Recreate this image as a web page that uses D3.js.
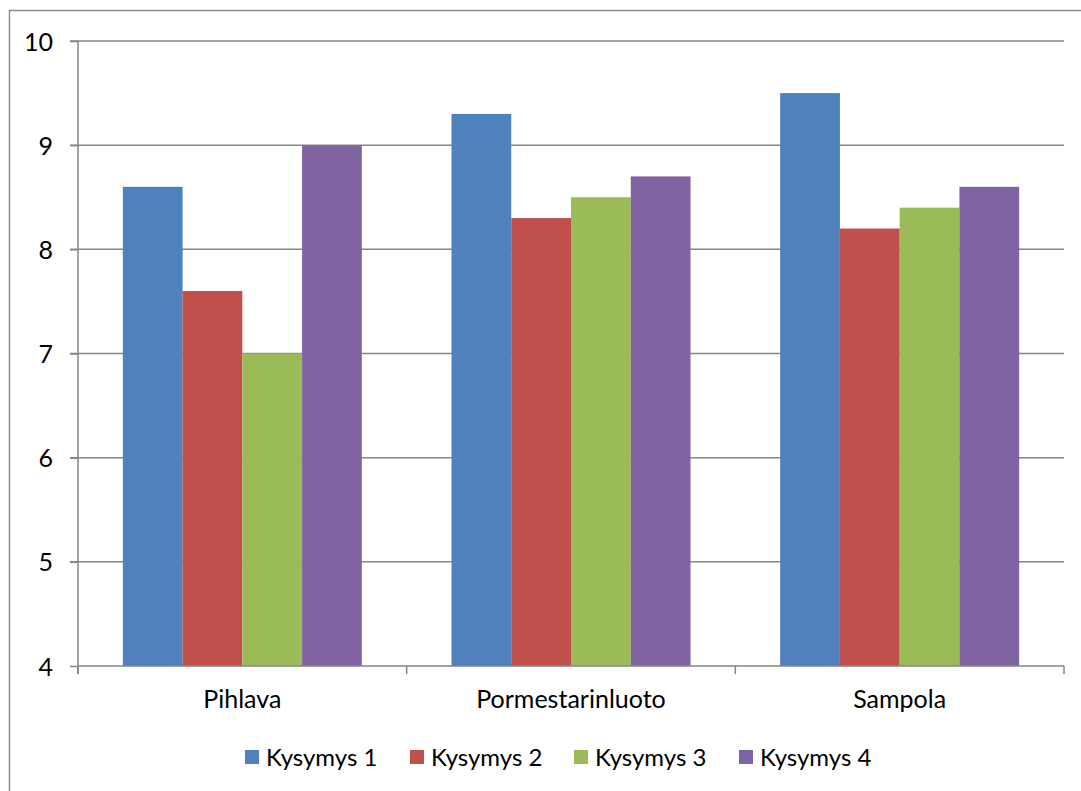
<!DOCTYPE html>
<html>
<head>
<meta charset="utf-8">
<script src="https://cdn.jsdelivr.net/npm/d3@7"></script>
<style>
  html, body { margin: 0; padding: 0; background: #fff; }
  svg { display: block; }
  text { font-family: Lato, "Open Sans", sans-serif; fill: #000; }
</style>
</head>
<body>
<svg id="chart" width="1081" height="791"></svg>
<script>
// Survey results per area, one bar per question
const categories = ["Pihlava", "Pormestarinluoto", "Sampola"];
const seriesNames = ["Kysymys 1", "Kysymys 2", "Kysymys 3", "Kysymys 4"];
const kysymys1 = [8.6, 9.3, 9.5];
const kysymys2 = [7.6, 8.3, 8.2];
const kysymys3 = [7.0, 8.5, 8.4];
const kysymys4 = [9.0, 8.7, 8.6];
const yTicks = [4, 5, 6, 7, 8, 9, 10];
const colors = ["#4F81BD", "#C0504D", "#9BBB59", "#8064A2"];

const seriesValues = [kysymys1, kysymys2, kysymys3, kysymys4];

const svg = d3.select("#chart");
const W = 1081, H = 791;
const plot = { left: 78, right: 1064, top: 41, bottom: 666 };

// outer chart frame
svg.append("rect")
  .attr("x", 9.5).attr("y", 10.5)
  .attr("width", W + 20).attr("height", H + 20)
  .attr("fill", "none").attr("stroke", "#8c8c8c").attr("stroke-width", 1.5);

const x0 = d3.scaleBand().domain(categories).range([plot.left, plot.right]);
// Excel-style gap of 150% of a bar width inside each category
const x1 = d3.scaleBand().domain(seriesNames)
  .range([0, x0.bandwidth()]).paddingInner(0).paddingOuter(0.75);
const y = d3.scaleLinear().domain([4, 10]).range([plot.bottom, plot.top]);

const gridColor = "#868686";

// horizontal gridlines
svg.append("g").selectAll("line").data(yTicks.filter(t => t > 4)).join("line")
  .attr("x1", plot.left - 8).attr("x2", plot.right)
  .attr("y1", d => y(d)).attr("y2", d => y(d))
  .attr("stroke", gridColor).attr("stroke-width", 1.5);

// bars
const groups = svg.append("g").selectAll("g").data(categories).join("g")
  .attr("transform", c => `translate(${x0(c)},0)`);
groups.selectAll("rect")
  .data((c, i) => seriesNames.map((s, j) => ({ s, j, v: seriesValues[j][i] })))
  .join("rect")
  .attr("x", d => x1(d.s))
  .attr("width", x1.bandwidth())
  .attr("y", d => y(d.v))
  .attr("height", d => y(4) - y(d.v))
  .attr("fill", d => colors[d.j]);

// y axis
const yAxis = d3.axisLeft(y).tickValues(yTicks).tickFormat(d3.format("d"))
  .tickSize(8).tickPadding(17).tickSizeOuter(0);
const gy = svg.append("g").attr("transform", `translate(${plot.left},0)`).call(yAxis);
gy.select(".domain").attr("stroke", gridColor).attr("stroke-width", 1.5)
  .attr("d", `M0,${plot.top}V${plot.bottom + 8}`);
gy.selectAll(".tick line").attr("stroke", gridColor).attr("stroke-width", 1.5);
gy.selectAll(".tick text").attr("font-size", 25).attr("font-family", "Lato, sans-serif")
  .attr("fill", "#000").attr("dy", "0.36em");

// x axis with ticks at category boundaries
const gx = svg.append("g").attr("transform", `translate(0,${plot.bottom})`);
gx.append("line").attr("x1", plot.left).attr("x2", plot.right)
  .attr("stroke", gridColor).attr("stroke-width", 1.5);
const bounds = categories.map(c => x0(c)).concat([plot.right]);
gx.selectAll("line.b").data(bounds).join("line").attr("class", "b")
  .attr("x1", d => d).attr("x2", d => d).attr("y1", 0).attr("y2", 8)
  .attr("stroke", gridColor).attr("stroke-width", 1.5);
gx.selectAll("text").data(categories).join("text")
  .attr("x", c => x0(c) + x0.bandwidth() / 2)
  .attr("y", 42)
  .attr("text-anchor", "middle")
  .attr("font-size", 25)
  .text(c => c);

// legend
const legend = svg.append("g");
const legendX = [245, 410, 574, 739];
const items = legend.selectAll("g").data(seriesNames).join("g")
  .attr("transform", (d, i) => `translate(${legendX[i]},750)`);
items.append("rect").attr("width", 14).attr("height", 14).attr("fill", (d, i) => colors[i]);
items.append("text").attr("x", 21).attr("y", 16).attr("font-size", 24).text(d => d);
</script>
</body>
</html>
